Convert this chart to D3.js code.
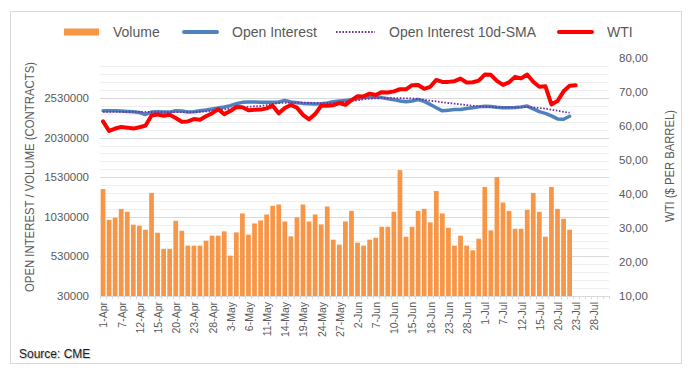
<!DOCTYPE html>
<html>
<head>
<meta charset="utf-8">
<script src="https://cdn.jsdelivr.net/npm/d3@7"></script>
<style>
  html, body { margin: 0; padding: 0; background: #ffffff; }
  svg { display: block; }
  text { font-family: "Liberation Sans", Arial, sans-serif; }
</style>
</head>
<body>
<svg id="chart" width="698" height="379"></svg>
<script>
// ---------------- DATA ----------------
const categories = [
  "1-Apr","5-Apr","6-Apr","7-Apr","8-Apr","9-Apr","12-Apr","13-Apr","14-Apr","15-Apr",
  "16-Apr","19-Apr","20-Apr","21-Apr","22-Apr","23-Apr","26-Apr","27-Apr","28-Apr","29-Apr",
  "30-Apr","3-May","4-May","5-May","6-May","7-May","10-May","11-May","12-May","13-May",
  "14-May","17-May","18-May","19-May","20-May","21-May","24-May","25-May","26-May","27-May",
  "28-May","1-Jun","2-Jun","3-Jun","4-Jun","7-Jun","8-Jun","9-Jun","10-Jun","11-Jun",
  "14-Jun","15-Jun","16-Jun","17-Jun","18-Jun","21-Jun","22-Jun","23-Jun","24-Jun","25-Jun",
  "28-Jun","29-Jun","30-Jun","1-Jul","2-Jul","6-Jul","7-Jul","8-Jul","9-Jul","12-Jul",
  "13-Jul","14-Jul","15-Jul","16-Jul","19-Jul","20-Jul","21-Jul","22-Jul","23-Jul","26-Jul",
  "27-Jul","28-Jul","29-Jul","30-Jul"
];

const volume = [
  1381000, 992000, 1017000, 1130000, 1093000, 930000, 917000, 867000, 1331000, 829000,
  624000, 624000, 980000, 854000, 666000, 666000, 666000, 729000, 792000, 792000,
  846000, 540000, 833000, 1072000, 804000, 946000, 984000, 1059000, 1168000, 1185000,
  971000, 783000, 1022000, 1185000, 971000, 1059000, 934000, 1160000, 741000, 679000,
  971000, 1105000, 704000, 666000, 741000, 766000, 904000, 904000, 1093000, 1620000,
  779000, 904000, 1105000, 1130000, 959000, 1356000, 1072000, 892000, 666000, 792000,
  666000, 607000, 754000, 1407000, 858000, 1532000, 1210000, 1105000, 879000, 879000,
  1118000, 1331000, 1093000, 779000, 1407000, 1130000, 1005000, 867000
];

const openInterest = [
  2369000, 2369000, 2369000, 2365000, 2360000, 2356000, 2347000, 2322000, 2352000, 2356000,
  2352000, 2352000, 2369000, 2365000, 2352000, 2356000, 2369000, 2378000, 2390000, 2403000,
  2416000, 2433000, 2458000, 2475000, 2479000, 2479000, 2475000, 2475000, 2475000, 2479000,
  2500000, 2479000, 2471000, 2462000, 2458000, 2454000, 2458000, 2466000, 2483000, 2492000,
  2500000, 2509000, 2525000, 2535000, 2540000, 2540000, 2535000, 2520000, 2509000, 2492000,
  2483000, 2492000, 2511000, 2487000, 2449000, 2407000, 2368000, 2376000, 2384000, 2386000,
  2397000, 2408000, 2418000, 2425000, 2422000, 2412000, 2406000, 2406000, 2410000, 2418000,
  2428000, 2392000, 2358000, 2336000, 2304000, 2266000, 2262000, 2300000
];

const openInterestSma = [
  2356000, 2356000, 2356000, 2356000, 2356000, 2356000, 2356000, 2356000, 2352000, 2352000,
  2352000, 2352000, 2352000, 2352000, 2352000, 2352000, 2356000, 2360000, 2369000, 2378000,
  2386000, 2395000, 2407000, 2416000, 2420000, 2424000, 2429000, 2440000, 2455000, 2465000,
  2470000, 2471000, 2471000, 2471000, 2470000, 2468000, 2466000, 2465000, 2468000, 2474000,
  2482000, 2492000, 2503000, 2515000, 2522000, 2526000, 2528000, 2528000, 2528000, 2527000,
  2526000, 2524000, 2520000, 2509000, 2496000, 2487000, 2475000, 2467000, 2458000, 2449000,
  2441000, 2433000, 2424000, 2420000, 2416000, 2412000, 2412000, 2412000, 2412000, 2412000,
  2416000, 2412000, 2403000, 2395000, 2382000, 2369000, 2356000, 2344000
];

const wti = [
  61.45, 58.65, 59.33, 59.77, 59.60, 59.32, 59.70, 60.18, 63.15, 63.46,
  63.13, 63.38, 62.44, 61.35, 61.43, 62.14, 61.91, 62.94, 63.86, 65.01,
  63.58, 64.49, 65.69, 65.63, 64.71, 64.90, 64.92, 65.28, 66.08, 63.82,
  65.37, 66.27, 65.49, 63.36, 62.05, 63.58, 66.05, 66.07, 66.21, 66.85,
  66.32, 67.72, 68.83, 68.81, 69.62, 69.23, 70.05, 69.96, 70.29, 70.91,
  70.88, 72.12, 72.15, 71.04, 71.64, 73.66, 73.06, 73.08, 73.30, 74.05,
  72.91, 72.98, 73.47, 75.23, 75.16, 73.37, 72.20, 72.94, 74.56, 74.10,
  75.25, 73.13, 71.65, 71.81, 66.42, 67.42, 70.30, 71.91, 72.07
];

const leftTicks = [30000, 530000, 1030000, 1530000, 2030000, 2530000];
const rightTicks = [10, 20, 30, 40, 50, 60, 70, 80];
const legendLabels = ["Volume", "Open Interest", "Open Interest 10d-SMA", "WTI"];
const leftTitle = "OPEN INTEREST / VOLUME (CONTRACTS)";
const rightTitle = "WTI ($ PER BARREL)";
const sourceText = "Source: CME";

// ---------------- LAYOUT ----------------
const W = 698, H = 379;
const plot = { left: 100, right: 609, top: 58.4, bottom: 296 };
const colors = { volume: "#F79646", oi: "#4F81BD", sma: "#7030A0", wti: "#FF0000", text: "#595959" };

const svg = d3.select("#chart");
svg.append("rect").attr("width", W).attr("height", H).attr("fill", "#fff");
svg.append("rect").attr("x", 10.5).attr("y", 11.5).attr("width", 671).attr("height", 352)
  .attr("fill", "none").attr("stroke", "#d9d9d9").attr("stroke-width", 1);

const x = d3.scaleBand().domain(d3.range(categories.length))
  .range([plot.left, plot.right]).paddingInner(0.22).paddingOuter(0.11);
const step = x.step();
const xc = i => x(i) + x.bandwidth() / 2;
const yL = d3.scaleLinear().domain([30000, 3030000]).range([plot.bottom, plot.top]);
const yR = d3.scaleLinear().domain([10, 80]).range([plot.bottom, plot.top]);

// gridlines
const minor = d3.range(130000, 3030000, 100000);
svg.append("g").selectAll("line").data(minor).join("line")
  .attr("x1", plot.left).attr("x2", plot.right)
  .attr("y1", d => Math.round(yL(d)) + 0.5).attr("y2", d => Math.round(yL(d)) + 0.5)
  .attr("stroke", d => ((d - 30000) % 500000 === 0) ? "#d9d9d9" : "#efefef")
  .attr("stroke-width", 1);

// bars
svg.append("g").selectAll("rect").data(volume).join("rect")
  .attr("x", (d, i) => x(i)).attr("width", x.bandwidth())
  .attr("y", d => yL(d)).attr("height", d => yL(30000) - yL(d))
  .attr("fill", colors.volume);

// x axis
const xAxis = svg.append("g");
xAxis.append("line").attr("x1", plot.left).attr("x2", plot.right)
  .attr("y1", plot.bottom + 0.5).attr("y2", plot.bottom + 0.5)
  .attr("stroke", "#d9d9d9");
xAxis.selectAll("line.tick").data(d3.range(categories.length + 1)).join("line")
  .attr("class", "tick")
  .attr("x1", i => Math.round(plot.left + i * step) + 0.5)
  .attr("x2", i => Math.round(plot.left + i * step) + 0.5)
  .attr("y1", plot.bottom).attr("y2", plot.bottom + 3)
  .attr("stroke", "#d9d9d9");
xAxis.selectAll("text").data(categories.map((c, i) => ({ c, i })).filter(d => d.i % 3 === 0)).join("text")
  .attr("transform", d => `translate(${xc(d.i)},${plot.bottom + 6}) rotate(-90)`)
  .attr("text-anchor", "end").attr("dy", "0.42em")
  .attr("font-size", 10.5).attr("fill", colors.text)
  .text(d => d.c);

// left axis labels
svg.append("g").selectAll("text").data(leftTicks).join("text")
  .attr("x", 89).attr("y", d => yL(d)).attr("dy", "0.35em")
  .attr("text-anchor", "end").attr("font-size", 11.5).attr("fill", colors.text)
  .text(d => d);

// right axis labels
const fmtR = v => d3.format(".2f")(v).replace(".", ",");
svg.append("g").selectAll("text").data(rightTicks).join("text")
  .attr("x", 619).attr("y", d => yR(d)).attr("dy", "0.35em")
  .attr("text-anchor", "start").attr("font-size", 11.5).attr("fill", colors.text)
  .text(d => fmtR(d));

// titles
svg.append("text").attr("transform", "translate(30,177) rotate(-90)")
  .attr("text-anchor", "middle").attr("dy", "0.35em")
  .attr("font-size", 12.5).attr("fill", colors.text)
  .attr("textLength", 230).attr("lengthAdjust", "spacingAndGlyphs")
  .text(leftTitle);
svg.append("text").attr("transform", "translate(670,166) rotate(-90)")
  .attr("text-anchor", "middle").attr("dy", "0.35em")
  .attr("font-size", 12.5).attr("fill", colors.text)
  .attr("textLength", 112).attr("lengthAdjust", "spacingAndGlyphs")
  .text(rightTitle);

// lines
const lineGen = scale => d3.line().x((d, i) => xc(i)).y(d => scale(d));
svg.append("path").datum(openInterest).attr("d", lineGen(yL))
  .attr("fill", "none").attr("stroke", colors.oi).attr("stroke-width", 3.5)
  .attr("stroke-linejoin", "round").attr("stroke-linecap", "round");
svg.append("path").datum(openInterestSma).attr("d", lineGen(yL))
  .attr("fill", "none").attr("stroke", colors.sma).attr("stroke-width", 1.8)
  .attr("stroke-dasharray", "1.6,1.6");
svg.append("path").datum(wti).attr("d", lineGen(yR))
  .attr("fill", "none").attr("stroke", colors.wti).attr("stroke-width", 4)
  .attr("stroke-linejoin", "round").attr("stroke-linecap", "round");

// legend
const lg = svg.append("g");
const ly = 32;
lg.append("rect").attr("x", 64).attr("y", ly - 3.5).attr("width", 35).attr("height", 7).attr("fill", colors.volume);
lg.append("line").attr("x1", 184).attr("x2", 217).attr("y1", ly).attr("y2", ly)
  .attr("stroke", colors.oi).attr("stroke-width", 4).attr("stroke-linecap", "round");
lg.append("line").attr("x1", 336).attr("x2", 375).attr("y1", ly).attr("y2", ly)
  .attr("stroke", colors.sma).attr("stroke-width", 1.8).attr("stroke-dasharray", "1.6,1.6");
lg.append("line").attr("x1", 559).attr("x2", 592).attr("y1", ly).attr("y2", ly)
  .attr("stroke", colors.wti).attr("stroke-width", 4).attr("stroke-linecap", "round");
const legendX = [113, 232, 389, 607];
lg.selectAll("text").data(legendLabels).join("text")
  .attr("x", (d, i) => legendX[i]).attr("y", ly).attr("dy", "0.35em")
  .attr("font-size", 14).attr("fill", colors.text)
  .text(d => d);

// source
svg.append("text").attr("x", 19).attr("y", 354).attr("dy", "0.35em")
  .attr("font-size", 12).attr("fill", "#1a1a1a")
  .style("text-shadow", "1px 1px 1px rgba(0,0,0,0.25)")
  .text(sourceText);
</script>
</body>
</html>
